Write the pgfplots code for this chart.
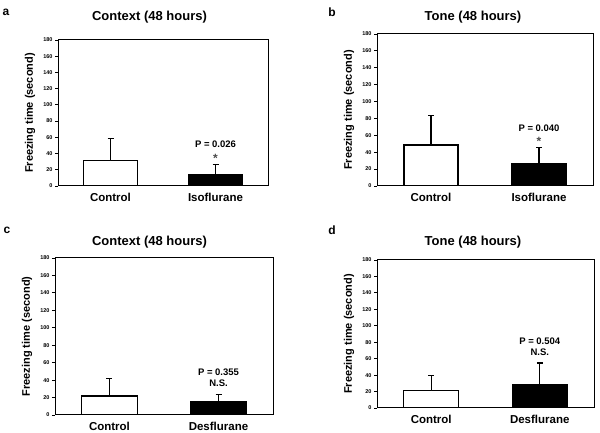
\documentclass[border=0pt]{standalone}
\usepackage{fontspec}
\setmainfont{Liberation Sans}
\usepackage{pgfplots}
\pgfplotsset{compat=1.18}
\begin{document}
\begin{tikzpicture}[x=1pt,y=1pt]
\useasboundingbox (0pt,0pt) rectangle (600pt,433pt);
\pgfplotsset{
  panel/.style={
    scale only axis, anchor=south west,
    xmin=-0.5, xmax=1.5, ymin=0, ymax=180,
    ytick={0,20,...,180}, xtick={0,1},
    ytick pos=left, xtick pos=bottom,
    tick align=outside, major tick length=3pt,
    x tick style={draw=none},
    y tick style={line width=0.8pt, black},
    axis line style={line width=1pt},
    /pgf/number format/assume math mode=true,
    yticklabel style={font=\bfseries\fontsize{5.5}{6}\selectfont, xshift=1pt},
    xticklabel style={font=\bfseries\fontsize{11.5}{12}\selectfont, yshift=-1pt},
    ylabel={Freezing time (second)},
    every axis y label/.style={at={([xshift=-28pt]axis description cs:0,0.5)}, rotate=90, anchor=center, font=\bfseries\fontsize{11}{12}\selectfont},
    ybar, bar shift=0pt, bar width=54pt,
    error bars/y dir=plus, error bars/y explicit,
    error bars/error bar style={line width=1.1pt},
    error bars/error mark options={line width=1.1pt, mark size=3pt, rotate=90},
  },
  cbar/.style={fill=white, draw=black, line width=1.3pt},
  tbar/.style={fill=black, draw=black, line width=1.3pt},
}
% panel a
\begin{axis}[panel, at={(58pt,247pt)}, width=210pt, height=146pt,
  xticklabels={Control,Isoflurane}]
\addplot[cbar] coordinates {(0,31.7) +- (0,26.3)};
\addplot[tbar] coordinates {(1,13.5) +- (0,13.5)};
\node[font=\bfseries\fontsize{9.5}{10}\selectfont] at (axis cs:1,52) {P = 0.026};
\node[font=\bfseries\fontsize{12}{12}\selectfont, gray!60!black] at (axis cs:1,34) {*};
\end{axis}
% panel b
\begin{axis}[panel, at={(377pt,247pt)}, width=216pt, height=152pt,
  xticklabels={Control,Isoflurane}]
\addplot[cbar] coordinates {(0,48.6) +- (0,35.4)};
\addplot[tbar] coordinates {(1,26) +- (0,19.4)};
\node[font=\bfseries\fontsize{9.5}{10}\selectfont] at (axis cs:1,68.5) {P = 0.040};
\node[font=\bfseries\fontsize{12}{12}\selectfont, gray!60!black] at (axis cs:1,52.5) {*};
\end{axis}
% panel c
\begin{axis}[panel, at={(55pt,18pt)}, width=218pt, height=157pt,
  xticklabels={Control,Desflurane}, bar width=56pt]
\addplot[cbar] coordinates {(0,21.8) +- (0,19.9)};
\addplot[tbar] coordinates {(1,15.3) +- (0,7.7)};
\node[font=\bfseries\fontsize{9.5}{10}\selectfont] at (axis cs:1,49) {P = 0.355};
\node[font=\bfseries\fontsize{9.5}{10}\selectfont] at (axis cs:1,36.5) {N.S.};
\end{axis}
% panel d
\begin{axis}[panel, at={(377pt,25pt)}, width=217pt, height=148pt,
  xticklabels={Control,Desflurane}, bar width=55pt]
\addplot[cbar] coordinates {(0,21.5) +- (0,18.2)};
\addplot[tbar] coordinates {(1,28.4) +- (0,26.3)};
\node[font=\bfseries\fontsize{9.5}{10}\selectfont] at (axis cs:1,81.5) {P = 0.504};
\node[font=\bfseries\fontsize{9.5}{10}\selectfont] at (axis cs:1,68) {N.S.};
\end{axis}
% titles and panel letters
\node[font=\bfseries\fontsize{13}{14}\selectfont] at (149.5pt,416pt) {Context (48 hours)};
\node[font=\bfseries\fontsize{13}{14}\selectfont] at (473pt,416pt) {Tone (48 hours)};
\node[font=\bfseries\fontsize{13}{14}\selectfont] at (149.5pt,191pt) {Context (48 hours)};
\node[font=\bfseries\fontsize{13}{14}\selectfont] at (473pt,191pt) {Tone (48 hours)};
\node[font=\bfseries\fontsize{12}{12}\selectfont] at (6pt,421pt) {a};
\node[font=\bfseries\fontsize{12}{12}\selectfont] at (332pt,421pt) {b};
\node[font=\bfseries\fontsize{12}{12}\selectfont] at (7pt,203pt) {c};
\node[font=\bfseries\fontsize{12}{12}\selectfont] at (332pt,203pt) {d};
\end{tikzpicture}
\end{document}
